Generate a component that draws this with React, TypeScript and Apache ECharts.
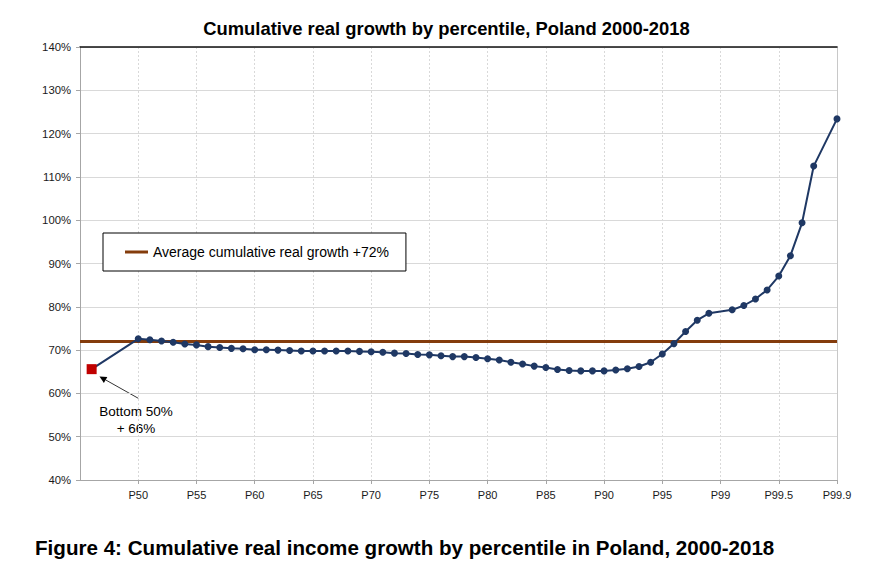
import React, { useEffect, useRef } from 'react';
import * as echarts from 'echarts';

// ---- data ----
const xTickLabels = ['P50', 'P55', 'P60', 'P65', 'P70', 'P75', 'P80', 'P85', 'P90', 'P95', 'P99', 'P99.5', 'P99.9'];

const categories: string[] = Array.from({ length: 66 }, (_, i) =>
  i === 1 ? 'Bottom 50%' : i >= 5 && i % 5 === 0 ? xTickLabels[i / 5 - 1] : `s${i}`
);

// cumulative real growth (%) per category slot; null = no point
const growth: (number | null)[] = [
  null, 65.6, null, null, null,
  72.6, 72.4, 72.1, 71.8, 71.4,
  71.2, 70.8, 70.6, 70.4, 70.3,
  70.1, 70.1, 70.0, 69.9, 69.8,
  69.8, 69.8, 69.8, 69.8, 69.7,
  69.6, 69.5, 69.3, 69.2, 69.0,
  68.9, 68.7, 68.5, 68.5, 68.3,
  68.0, 67.7, 67.2, 66.8, 66.3,
  66.0, 65.5, 65.3, 65.2, 65.2,
  65.2, 65.4, 65.7, 66.2, 67.2,
  69.1, 71.5, 74.3, 76.9, 78.5,
  null, 79.3, 80.3, 81.8, 83.9,
  87.1, 91.8, 99.4, 112.5, null,
  123.4,
];

const bottom50Index = 1;
const averageGrowth = 72;
const averageName = 'Average cumulative real growth +72%';
const seriesName = 'Cumulative real growth';

const yMin = 40;
const yMax = 140;
const yStep = 10;

const FONT = 'Liberation Sans, Arial, Helvetica, sans-serif';

export default function App() {
  const ref = useRef<HTMLDivElement>(null);

  useEffect(() => {
    if (!ref.current) return;
    const chart = echarts.init(ref.current, null, { renderer: 'svg' });
    const isTick = (i: number) => i >= 5 && i % 5 === 0;

    const mainData = growth.map((v, i) =>
      i === bottom50Index
        ? { value: v, symbol: 'rect', symbolSize: 10, itemStyle: { color: '#c00000' } }
        : v
    );

    chart.setOption({
      animation: false,
      backgroundColor: '#ffffff',
      textStyle: { fontFamily: FONT },
      grid: { left: 80, right: 41, top: 47, bottom: 82, containLabel: false },
      legend: {
        data: [{ name: averageName, icon: 'rect' }],
        left: 103,
        top: 233,
        itemWidth: 23,
        itemHeight: 3,
        padding: [12, 17, 12, 22],
        backgroundColor: '#ffffff',
        borderColor: '#000000',
        borderWidth: 1,
        borderRadius: 0,
        selectedMode: false,
        textStyle: { fontSize: 14, color: '#000000', fontFamily: FONT },
      },
      xAxis: [
        {
          type: 'category',
          data: categories,
          boundaryGap: false,
          axisLine: { show: true, lineStyle: { color: '#a6a6a6', width: 1 } },
          axisTick: { show: true, interval: (i: number) => isTick(i), length: 4, lineStyle: { color: '#a6a6a6' } },
          axisLabel: {
            interval: (i: number) => isTick(i),
            margin: 9,
            fontSize: 11,
            color: '#1a1a1a',
            fontFamily: FONT,
          },
          splitLine: {
            show: true,
            interval: (i: number) => isTick(i),
            lineStyle: { color: '#d9d9d9', type: [2, 2], width: 1 },
          },
        },
        {
          type: 'category',
          data: categories,
          boundaryGap: false,
          position: 'top',
          axisLine: { show: true, onZero: false, lineStyle: { color: '#111111', width: 1.5 } },
          axisTick: { show: false },
          axisLabel: { show: false },
          splitLine: { show: false },
        },
      ],
      yAxis: [
        {
          type: 'value',
          min: yMin,
          max: yMax,
          interval: yStep,
          axisLine: { show: true, lineStyle: { color: '#a6a6a6', width: 1 } },
          axisTick: { show: true, length: 4, lineStyle: { color: '#a6a6a6' } },
          axisLabel: {
            formatter: '{value}%',
            margin: 9,
            fontSize: 11.3,
            color: '#1a1a1a',
            fontFamily: FONT,
          },
          splitLine: { show: true, lineStyle: { color: '#d9d9d9', width: 1 } },
        },
        {
          type: 'value',
          min: yMin,
          max: yMax,
          interval: yStep,
          position: 'right',
          axisLine: { show: true, onZero: false, lineStyle: { color: '#c8c8c8', width: 1 } },
          axisTick: { show: false },
          axisLabel: { show: false },
          splitLine: { show: false },
        },
      ],
      series: [
        {
          name: averageName,
          type: 'line',
          xAxisIndex: 0,
          yAxisIndex: 0,
          data: categories.map(() => averageGrowth),
          showSymbol: false,
          symbol: 'none',
          color: '#843c0c',
          itemStyle: { color: '#843c0c' },
          lineStyle: { color: '#843c0c', width: 3 },
          z: 2,
        },
        {
          name: seriesName,
          type: 'line',
          xAxisIndex: 0,
          yAxisIndex: 0,
          data: mainData,
          connectNulls: true,
          symbol: 'circle',
          symbolSize: 7,
          showAllSymbol: true,
          color: '#1f3864',
          itemStyle: { color: '#1f3864' },
          lineStyle: { color: '#1f3864', width: 2 },
          z: 3,
        },
      ],
      graphic: [
        {
          type: 'text',
          x: 446.5,
          y: 28.7,
          style: {
            text: 'Cumulative real growth by percentile, Poland 2000-2018',
            fontFamily: FONT,
            fontSize: 18.4,
            fontWeight: 'bold',
            fill: '#000000',
            align: 'center',
            verticalAlign: 'middle',
          },
        },
        {
          type: 'text',
          x: 35,
          y: 547,
          style: {
            text: 'Figure 4: Cumulative real income growth by percentile in Poland, 2000-2018',
            fontFamily: FONT,
            fontSize: 20.6,
            fontWeight: 'bold',
            fill: '#000000',
            align: 'left',
            verticalAlign: 'middle',
          },
        },
        {
          type: 'text',
          x: 136,
          y: 403,
          style: {
            text: 'Bottom 50%\n+ 66%',
            fontFamily: FONT,
            fontSize: 13.5,
            lineHeight: 17,
            fill: '#000000',
            align: 'center',
            verticalAlign: 'top',
          },
        },
        {
          type: 'line',
          shape: { x1: 138.3, y1: 398.3, x2: 105.6, y2: 379.9 },
          style: { stroke: '#000000', lineWidth: 0.8 },
        },
        {
          type: 'polygon',
          shape: { points: [[99.5, 376.5], [107.3, 376.9], [103.9, 383.0]] },
          style: { fill: '#000000' },
        },
      ],
    });

    return () => chart.dispose();
  }, []);

  return (
    <div
      ref={ref}
      style={{ position: 'absolute', left: 0, top: 0, width: 878, height: 562 }}
    />
  );
}
